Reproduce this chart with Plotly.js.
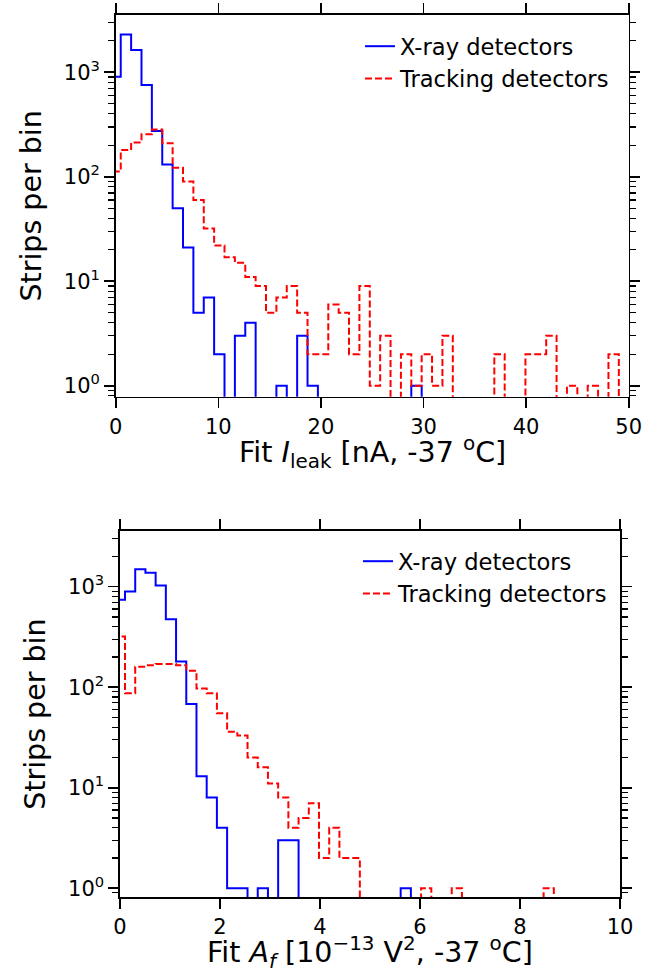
<!DOCTYPE html>
<html>
<head>
<meta charset="utf-8">
<script src="https://cdn.plot.ly/plotly-3.0.1.min.js"></script>
<style>html,body{margin:0;padding:0;background:#fff;}#chart{width:667px;height:973px;}</style>
</head>
<body>
<div id="chart"></div>
<script>
// ---- Data ----
// Top panel: fit leakage current [nA, -37 C], 49 bins
const topBinStart = -0.52;
const topBinWidth = 1.0114;
const topXrayCounts = [906, 2300, 1630, 754, 274, 131, 50, 21, 5, 7,
  2, 0, 3, 4, 0, 0, 1, 0, 3, 1,
  0, 0, 0, 0, 0, 0, 0, 0, 0, 1,
  0, 0, 0, 0, 0, 0, 0, 0, 0, 0,
  0, 0, 0, 0, 0, 0, 0, 0, 0];
const topTrackingCounts = [112, 180, 213, 255, 284, 209, 122, 90, 60, 32,
  22, 17, 15, 11, 9, 5, 7, 9, 5, 2,
  2, 6, 5, 2, 9, 1, 3, 0, 2, 1,
  2, 1, 3, 0, 0, 0, 0, 2, 0, 0,
  2, 2, 3, 0, 1, 0, 1, 0, 2];
// Bottom panel: fit A_f [1e-13 V^2, -37 C], 43 bins
const bottomBinStart = -0.104;
const bottomBinWidth = 0.2042;
const bottomXrayCounts = [740, 894, 1494, 1380, 1026, 475, 180, 68, 13, 8,
  4, 1, 1, 0, 1, 0, 3, 3, 0, 0,
  0, 0, 0, 0, 0, 0, 0, 0, 1, 0,
  0, 0, 0, 0, 0, 0, 0, 0, 0, 0,
  0, 0, 0];
const bottomTrackingCounts = [319, 87, 160, 165, 170, 170, 165, 146, 97, 87,
  55, 36, 33, 20, 16, 11, 8, 4, 5, 7,
  2, 4, 2, 2, 0, 0, 0, 0, 0, 0,
  1, 0, 0, 1, 0, 0, 0, 0, 0, 0,
  0, 0, 1];
const seriesNames = ["X-ray detectors", "Tracking detectors"];
const topXTicks = [0, 10, 20, 30, 40, 50];
const bottomXTicks = [0, 2, 4, 6, 8, 10];
const logTickVals = [1, 10, 100, 1000];
const logTickText = ["10<sup>0</sup>", "10<sup>1</sup>", "10<sup>2</sup>", "10<sup>3</sup>"];
const topXTitle = 'Fit <i>I</i><sub>leak</sub> [nA, -37 <sup>o</sup>C]';
const bottomXTitle = 'Fit <i>A<sub>f</sub></i> [10<sup>\u221213</sup> V<sup>2</sup>, -37 <sup>o</sup>C]';
const yTitle = 'Strips per bin';

// ---- helpers ----
function stepXY(start, width, counts) {
  const floor = 1e-3;
  const x = [start], y = [floor];
  for (let i = 0; i < counts.length; i++) {
    x.push(start + i * width);
    y.push(counts[i] > 0 ? counts[i] : floor);
  }
  x.push(start + counts.length * width);
  y.push(floor);
  return {x, y};
}
function minorLogVals() {
  const v = [0.8, 0.9];
  for (let d = 0; d <= 3; d++) for (let m = 2; m <= 9; m++) v.push(m * Math.pow(10, d));
  return v;
}

const W = 667, H = 973;
const blue = '#0000ff', red = '#ff0000';
const dashPat = '7px,3px';

const s1 = stepXY(topBinStart, topBinWidth, topXrayCounts);
const s2 = stepXY(topBinStart, topBinWidth, topTrackingCounts);
const s3 = stepXY(bottomBinStart, bottomBinWidth, bottomXrayCounts);
const s4 = stepXY(bottomBinStart, bottomBinWidth, bottomTrackingCounts);

const traces = [
  {x: s1.x, y: s1.y, type: 'scatter', mode: 'lines', line: {shape: 'hv', color: blue, width: 2}, name: seriesNames[0], xaxis: 'x', yaxis: 'y', legend: 'legend'},
  {x: s2.x, y: s2.y, type: 'scatter', mode: 'lines', line: {shape: 'hv', color: red, width: 2, dash: dashPat}, name: seriesNames[1], xaxis: 'x', yaxis: 'y', legend: 'legend'},
  {x: s3.x, y: s3.y, type: 'scatter', mode: 'lines', line: {shape: 'hv', color: blue, width: 2}, name: seriesNames[0], xaxis: 'x2', yaxis: 'y2', legend: 'legend2'},
  {x: s4.x, y: s4.y, type: 'scatter', mode: 'lines', line: {shape: 'hv', color: red, width: 2, dash: dashPat}, name: seriesNames[1], xaxis: 'x2', yaxis: 'y2', legend: 'legend2'}
];

const fontFam = 'DejaVu Sans, sans-serif';
const tickFont = {family: fontFam, size: 21, color: '#000'};
const titleFont = {family: fontFam, size: 28.5, color: '#000'};

function xAxis(dom, range, ticks, anchor) {
  return {
    domain: dom, range: range, anchor: anchor,
    tickmode: 'array', tickvals: ticks,
    ticks: 'outside', ticklen: 10, tickwidth: 1.6, tickcolor: '#000',
    showline: true, linewidth: 1.6, linecolor: '#000', mirror: 'allticks',
    showgrid: false, zeroline: false, tickfont: tickFont,
    automargin: false, fixedrange: true
  };
}
function yAxis(dom, range, anchor) {
  return {
    domain: dom, type: 'log', range: range, anchor: anchor,
    tickmode: 'array', tickvals: logTickVals, ticktext: logTickText,
    ticks: 'outside', ticklen: 10, tickwidth: 1.6, tickcolor: '#000',
    minor: {tickmode: 'array', tickvals: minorLogVals(), ticks: 'outside', ticklen: 6, tickwidth: 1.2, tickcolor: '#000', showgrid: false},
    showline: true, linewidth: 1.6, linecolor: '#000', mirror: 'allticks',
    showgrid: false, zeroline: false, tickfont: tickFont,
    title: {text: yTitle, font: titleFont, standoff: 14},
    automargin: false, fixedrange: true
  };
}

const layout = {
  width: W, height: H,
  margin: {l: 0, r: 0, t: 0, b: 0},
  paper_bgcolor: '#fff', plot_bgcolor: '#fff',
  font: {family: fontFam, color: '#000'},
  showlegend: true,
  xaxis: xAxis([115.7 / W, 628.7 / W], [0, 50], topXTicks, 'y'),
  yaxis: yAxis([(H - 396.7) / H, (H - 15) / H], [-0.105, 3.548], 'x'),
  xaxis2: xAxis([120 / W, 620 / W], [0, 10], bottomXTicks, 'y2'),
  yaxis2: yAxis([(H - 897.3) / H, (H - 531) / H], [-0.09, 3.554], 'x2'),
  legend: {x: 360 / W, y: (H - 25) / H, xanchor: 'left', yanchor: 'top', bgcolor: 'rgba(0,0,0,0)', borderwidth: 0, font: {family: fontFam, size: 22.6, color: '#000'}},
  legend2: {x: 358 / W, y: (H - 540) / H, xanchor: 'left', yanchor: 'top', bgcolor: 'rgba(0,0,0,0)', borderwidth: 0, font: {family: fontFam, size: 22.6, color: '#000'}},
  annotations: [
    {text: topXTitle, xref: 'paper', yref: 'paper', x: 372.2 / W, y: (H - 452) / H, xanchor: 'center', yanchor: 'middle', showarrow: false, font: titleFont},
    {text: bottomXTitle, xref: 'paper', yref: 'paper', x: 370 / W, y: (H - 952) / H, xanchor: 'center', yanchor: 'middle', showarrow: false, font: titleFont}
  ]
};

Plotly.newPlot('chart', traces, layout, {staticPlot: true, displayModeBar: false});
</script>
</body>
</html>
